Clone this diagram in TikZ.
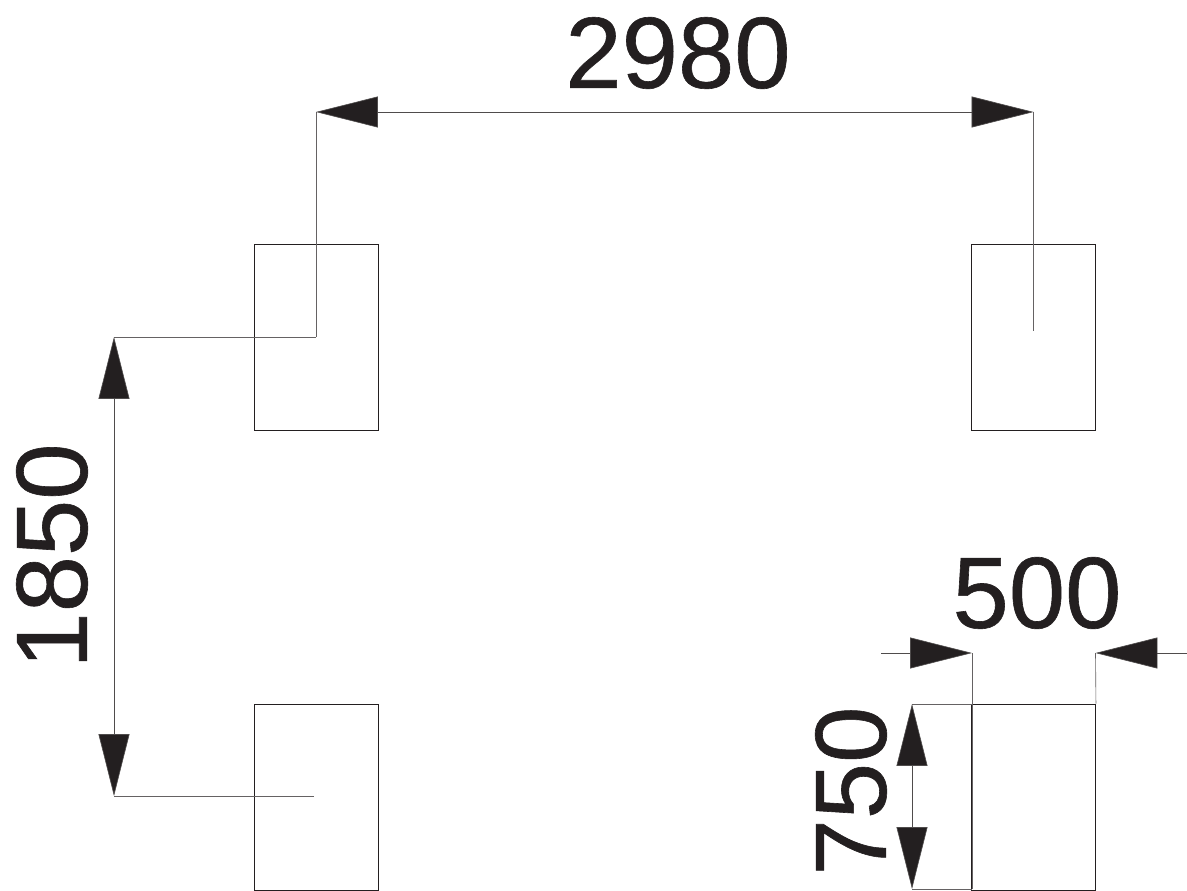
\documentclass[tikz,border=0pt]{standalone}
\usepackage{fontspec}
\setmainfont{Liberation Sans}
\newfontfamily\cifras[FakeBold=0.6]{Liberation Sans}
\usetikzlibrary{arrows.meta}
\definecolor{tinta}{HTML}{231F20}
\tikzset{
    pilar/.style={draw=tinta, line width=0.6pt, minimum width=3.1cm, minimum height=4.65cm, inner sep=0pt},
    cota/.style={tinta!80, line width=0.45pt, {Triangle[length=44pt,width=22pt,fill=tinta]}-{Triangle[length=44pt,width=22pt,fill=tinta]}},
    flecha/.style={tinta!80, line width=0.45pt, -{Triangle[length=44pt,width=22pt,fill=tinta]}},
    auxiliar/.style={tinta!70, line width=0.45pt},
    medida/.style={text=tinta, font=\cifras\fontsize{72}{72}\selectfont, inner sep=0pt}
}
\begin{document}
\begin{tikzpicture}[x=0.025cm, y=-0.025cm]
    \useasboundingbox (0,0) rectangle (1187,891);

    % Pilares
    \node[pilar] (pilarA) at (316,337) {};
    \node[pilar] (pilarB) at (1033.5,337) {};
    \node[pilar] (pilarC) at (316,797) {};
    \node[pilar] (pilarD) at (1033.5,797) {};

    % Puntos de cota
    \coordinate (supA) at (316,112);
    \coordinate (supB) at (1033.5,112);
    \coordinate (finB) at (1033.5,331);
    \coordinate (izqA) at (114,337);
    \coordinate (izqC) at (114,796);
    \coordinate (finC) at (314,796);
    \coordinate (anchoI) at (972,653);
    \coordinate (anchoD) at (1095.5,653);
    \coordinate (libreI) at (881,653);
    \coordinate (libreD) at (1187,653);
    \coordinate (altoS) at (912,704);
    \coordinate (altoI) at (912,889);
    \coordinate (pieS) at (972,704);
    \coordinate (pieI) at (972,889);

    % Lineas auxiliares
    \draw[auxiliar] (pilarA.center) -- (supA);
    \draw[auxiliar] (finB) -- (supB);
    \draw[auxiliar] (pilarA.center) -- (izqA);
    \draw[auxiliar] (finC) -- (izqC);
    \draw[auxiliar] (anchoI) -- (pieI);
    \draw[auxiliar] (anchoD) -- (pilarD.north east);
    \draw[auxiliar] (altoS) -- (pieS);
    \draw[auxiliar] (altoI) -- (pieI);

    % Cotas
    \draw[cota] (supA) -- (supB);
    \draw[cota] (izqA) -- (izqC);
    \draw[cota] (altoS) -- (altoI);
    \draw[flecha] (libreI) -- (anchoI);
    \draw[flecha] (libreD) -- (anchoD);

    % Textos
    \node[medida] (txtLargo) at (678,53) {2980};
    \node[medida, rotate=90] (txtFondo) at (52,556) {1850};
    \node[medida] (txtAncho) at (1037,593) {500};
    \node[medida, rotate=90] (txtAlto) at (851,791) {750};
\end{tikzpicture}
\end{document}
